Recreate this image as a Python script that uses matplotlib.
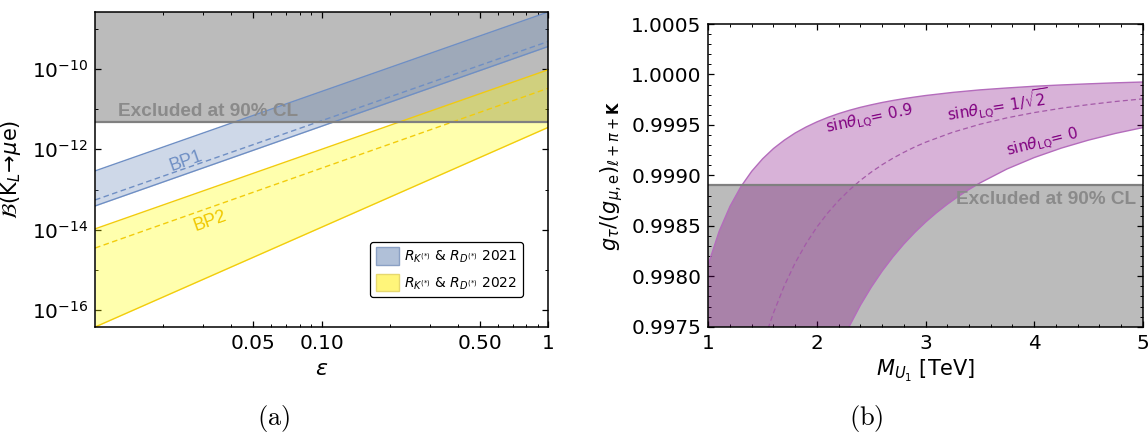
import matplotlib
matplotlib.use("Agg")
import matplotlib.pyplot as plt
from matplotlib.patches import Patch
from matplotlib.ticker import FixedLocator, FixedFormatter, NullFormatter, MultipleLocator, FormatStrFormatter

plt.rcParams['font.family'] = ['DejaVu Sans']
plt.rcParams['mathtext.fontset'] = 'dejavusans'

# ---------------- panel (a): B(K_L -> mu e) versus epsilon ----------------
eps_ends = [0.01, 1.0]
bp1_high = [2.9e-13, 2.6e-9]
bp1_central = [5.5e-14, 4.8e-10]
bp1_low = [3.9e-14, 3.6e-10]
bp2_high = [1.05e-14, 9.5e-11]
bp2_central = [3.5e-15, 3.3e-11]
bp2_low = [3.8e-17, 3.5e-12]
br_limit = 4.7e-12
eps_major = [0.05, 0.10, 0.50, 1.0]
eps_major_labels = ['0.05', '0.10', '0.50', '1']
eps_minor = [0.02, 0.03, 0.04, 0.06, 0.07, 0.08, 0.09,
             0.2, 0.3, 0.4, 0.6, 0.7, 0.8, 0.9]
br_major = [1e-16, 1e-14, 1e-12, 1e-10]
br_minor = [1e-15, 1e-13, 1e-11, 1e-9]

# ---------------- panel (b): g_tau / g_mu,e versus M_U1 ----------------
mass_s09 = [1.0, 1.1, 1.2, 1.3, 1.4, 1.5, 1.6, 1.7, 1.8, 1.9, 2.0, 2.1, 2.2, 2.3,
            2.4, 2.5, 2.6, 2.7, 2.8, 2.9, 3.0, 3.25, 3.5, 3.75, 4.0, 4.25, 4.5,
            4.75, 5.0]
g_s09 = [0.998120, 0.998446, 0.998694, 0.998888, 0.999041, 0.999164, 0.999266,
         0.999349, 0.999420, 0.999479, 0.999530, 0.999574, 0.999612, 0.999645,
         0.999674, 0.999699, 0.999722, 0.999742, 0.999760, 0.999776, 0.999791,
         0.999822, 0.999847, 0.999866, 0.999883, 0.999896, 0.999907, 0.999917,
         0.999925]
mass_s07 = [1.55, 1.6, 1.7, 1.8, 1.9, 2.0, 2.1, 2.2, 2.3, 2.4, 2.5, 2.6, 2.7,
            2.8, 2.9, 3.0, 3.25, 3.5, 3.75, 4.0, 4.25, 4.5, 4.75, 5.0]
g_s07 = [0.997482, 0.997637, 0.997907, 0.998133, 0.998324, 0.998488, 0.998628,
         0.998750, 0.998856, 0.998950, 0.999032, 0.999105, 0.999170, 0.999228,
         0.999281, 0.999328, 0.999427, 0.999506, 0.999570, 0.999622, 0.999665,
         0.999701, 0.999732, 0.999758]
mass_s00 = [2.29, 2.4, 2.5, 2.6, 2.7, 2.8, 2.9, 3.0, 3.1, 3.2, 3.3, 3.4, 3.5,
            3.75, 4.0, 4.25, 4.5, 4.75, 5.0]
g_s00 = [0.997487, 0.997712, 0.997891, 0.998050, 0.998192, 0.998319, 0.998433,
         0.998536, 0.998629, 0.998713, 0.998790, 0.998860, 0.998924, 0.999063,
         0.999176, 0.999270, 0.999349, 0.999416, 0.999473]
g_limit = 0.9989
mass_range = [1.0, 5.0]
g_range = [0.9975, 1.0005]

GRAY_FILL = '#bbbbbb'
GRAY_LINE = '#808080'
GRAY_TEXT = '#8a8a8a'
BLUE = '#5e81b5'
BLUE_LINE = '#6f8fc4'
YELLOW = '#ffff00'
YELLOW_LINE = '#f2cc0c'
PURPLE = '#800080'
PURPLE_LINE = '#b46cbc'

fig = plt.figure(figsize=(11.48, 4.34), dpi=100)

# ---------------- panel (a) ----------------
ax = fig.add_axes([0.0828, 0.2465, 0.3946, 0.7258])
ax.set_xscale('log')
ax.set_yscale('log')
ax.set_xlim(eps_ends[0], eps_ends[1])
ax.set_ylim(bp2_low[0], bp1_high[1])

ax.axhspan(br_limit, bp1_high[1], color=GRAY_FILL, lw=0, zorder=1)
ax.fill_between(eps_ends, bp1_low, bp1_high, color=BLUE, alpha=0.3, lw=0, zorder=2)
ax.fill_between(eps_ends, bp2_low, bp2_high, color=YELLOW, alpha=0.32, lw=0, zorder=2)
ax.plot(eps_ends, bp1_high, color=BLUE_LINE, lw=1.0, zorder=3)
ax.plot(eps_ends, bp1_low, color=BLUE_LINE, lw=1.0, zorder=3)
ax.plot(eps_ends, bp1_central, color=BLUE_LINE, lw=1.0, ls=(0, (4, 2.5)), zorder=3)
ax.plot(eps_ends, bp2_high, color=YELLOW_LINE, lw=1.0, zorder=3)
ax.plot(eps_ends, bp2_low, color=YELLOW_LINE, lw=1.0, zorder=3)
ax.plot(eps_ends, bp2_central, color=YELLOW_LINE, lw=1.0, ls=(0, (4, 2.5)), zorder=3)
ax.axhline(br_limit, color=GRAY_LINE, lw=1.6, zorder=4)

ax.annotate('Excluded at 90% CL', xy=(0.249, br_limit), xycoords=('axes fraction', 'data'),
            xytext=(0, 1.5), textcoords='offset points', ha='center', va='bottom',
            fontsize=13.7, fontweight='bold', color=GRAY_TEXT, zorder=5,
            family=['Liberation Sans', 'DejaVu Sans'])
ax.text(186, 434 - 161, 'BP1', transform=None, fontsize=13, color=BLUE_LINE,
        rotation=19.4, ha='center', va='center', rotation_mode='anchor',
        family=['Liberation Sans', 'DejaVu Sans'], zorder=5)
ax.text(210, 434 - 221, 'BP2', transform=None, fontsize=13, color='#f0c800',
        rotation=19.4, ha='center', va='center', rotation_mode='anchor',
        family=['Liberation Sans', 'DejaVu Sans'], zorder=5)

ax.xaxis.set_major_locator(FixedLocator(eps_major))
ax.xaxis.set_major_formatter(FixedFormatter(eps_major_labels))
ax.xaxis.set_minor_locator(FixedLocator(eps_minor))
ax.xaxis.set_minor_formatter(NullFormatter())
ax.yaxis.set_major_locator(FixedLocator(br_major))
ax.yaxis.set_minor_locator(FixedLocator(br_minor))
ax.yaxis.set_minor_formatter(NullFormatter())

ax.set_xlabel(r'$\epsilon$', fontsize=16, labelpad=4)
ax.set_ylabel(r'$\mathcal{B}(\mathrm{K}_L\!\rightarrow\!\mu\mathrm{e})$', fontsize=15, labelpad=6)

legend_handles = [
    Patch(facecolor='#b0c0d8', edgecolor='#8aa0c4', lw=1.0),
    Patch(facecolor='#fff57a', edgecolor='#e6d870', lw=1.0),
]
legend_labels = [r'$R_{K^{(*)}}$ & $R_{D^{(*)}}$ 2021', r'$R_{K^{(*)}}$ & $R_{D^{(*)}}$ 2022']
leg = ax.legend(legend_handles, legend_labels, loc='lower right',
                bbox_to_anchor=(0.959, 0.073), fontsize=10, frameon=True,
                fancybox=True, edgecolor='black', framealpha=1.0,
                handlelength=1.65, handleheight=1.6, handletextpad=0.35,
                borderpad=0.4, labelspacing=0.6)
leg.get_frame().set_linewidth(0.9)
leg.set_zorder(10)

# ---------------- panel (b) ----------------
bx = fig.add_axes([0.617, 0.2472, 0.3784, 0.6975])
bx.set_xlim(*mass_range)
bx.set_ylim(*g_range)

bx.axhspan(g_range[0], g_limit, color=GRAY_FILL, lw=0, zorder=1)
band_x = mass_s09 + mass_s00[::-1] + [mass_s00[0], mass_range[0]]
band_y = g_s09 + g_s00[::-1] + [g_range[0], g_range[0]]
bx.fill(band_x, band_y, color=PURPLE, alpha=0.3, lw=0, zorder=2)
bx.plot(mass_s09, g_s09, color=PURPLE_LINE, lw=1.0, zorder=3)
bx.plot(mass_s00, g_s00, color=PURPLE_LINE, lw=1.0, zorder=3)
bx.plot(mass_s07, g_s07, color='#a45aa8', lw=0.9, ls=(0, (4, 2.5)), zorder=3)
bx.axhline(g_limit, color=GRAY_LINE, lw=1.6, zorder=4)

bx.annotate('Excluded at 90% CL', xy=(0.985, g_limit), xycoords=('axes fraction', 'data'),
            xytext=(0, -4), textcoords='offset points', ha='right', va='top',
            fontsize=13.7, fontweight='bold', color=GRAY_TEXT, zorder=5,
            family=['Liberation Sans', 'DejaVu Sans'])
label_kw = dict(transform=None, fontsize=11, color=PURPLE, ha='center', va='center',
                rotation_mode='anchor', zorder=5)
bx.text(869, 434 - 119, r'sin$\theta_{\mathrm{LQ}}$= 0.9', rotation=12, **label_kw)
bx.text(998, 434 - 106, r'sin$\theta_{\mathrm{LQ}}$= 1/$\sqrt{2}$', rotation=9, **label_kw)
bx.text(1043, 434 - 143, r'sin$\theta_{\mathrm{LQ}}$= 0', rotation=14, **label_kw)

bx.xaxis.set_major_locator(MultipleLocator(1))
bx.xaxis.set_minor_locator(MultipleLocator(0.2))
bx.xaxis.set_major_formatter(FormatStrFormatter('%d'))
bx.yaxis.set_major_locator(MultipleLocator(0.0005))
bx.yaxis.set_minor_locator(MultipleLocator(0.0001))
bx.yaxis.set_major_formatter(FormatStrFormatter('%.4f'))

bx.set_xlabel(r'$M_{U_1}$ [TeV]', fontsize=15, labelpad=4)
bx.set_ylabel(r'$g_\tau/(g_{\mu,\mathrm{e}})_{\ell+\pi+\mathbf{K}}$', fontsize=15, labelpad=4)

for a in (ax, bx):
    a.tick_params(which='both', direction='in', top=True, right=True, labelsize=14.4,
                  color='black')
    a.tick_params(which='major', length=4, width=0.9, pad=5)
    a.tick_params(which='minor', length=2.2, width=0.7)
    for s in a.spines.values():
        s.set_linewidth(1.1)
        s.set_zorder(20)

fig.text(274 / 1148, 1 - 418 / 434, r'$\mathrm{(a)}$', fontsize=19, math_fontfamily='cm',
         ha='center', va='center')
fig.text(866 / 1148, 1 - 418 / 434, r'$\mathrm{(b)}$', fontsize=19, math_fontfamily='cm',
         ha='center', va='center')

fig.savefig('out.png', dpi=100)
